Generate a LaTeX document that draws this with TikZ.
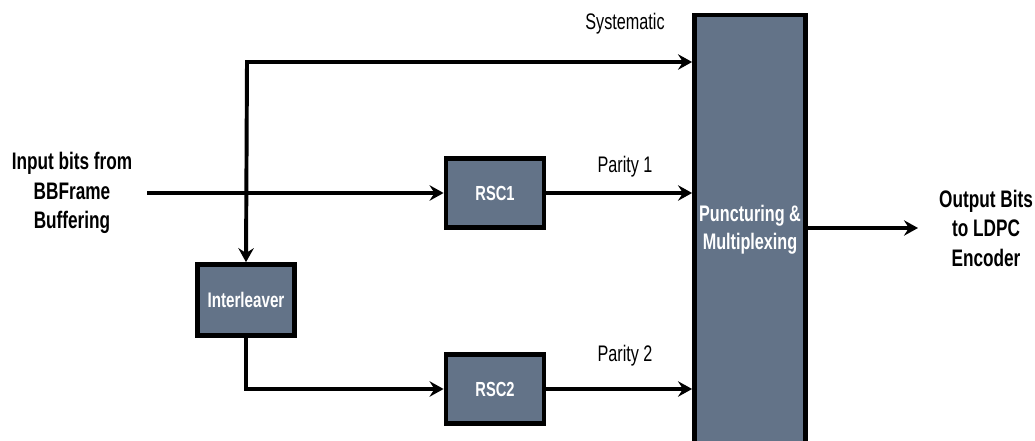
\documentclass[tikz,border=0pt]{standalone}
\usepackage{fontspec}
\setmainfont{Liberation Sans}[FakeStretch=0.72]
\definecolor{blockgray}{RGB}{99,115,136}
\usetikzlibrary{arrows.meta,positioning,calc}

\tikzset{
  block/.style={draw=black, line width=3.4pt, fill=blockgray, text=white,
    font=\bfseries\fontsize{14.5}{16}\selectfont, align=center},
  flow/.style={-{Stealth[length=10pt,width=11pt,inset=3.5pt]}, line width=2.8pt},
  sidetext/.style={font=\bfseries\fontsize{17}{21}\selectfont, align=center},
  chanlabel/.style={font=\fontsize{16}{18}\selectfont}
}

\begin{document}
\begin{tikzpicture}[x=0.025cm, y=-0.025cm]

  \useasboundingbox (0,0) rectangle (1035,441);
  \clip (0,0) rectangle (1035,441);

  %% ===== blocks =====
  \node[block, minimum width=2.45cm, minimum height=1.72cm] (rsc1) at (495,193) {RSC1};
  \node[block, minimum width=2.45cm, minimum height=1.72cm] (rsc2) at (495,389) {RSC2};
  \node[block, minimum width=2.42cm, minimum height=1.77cm,
    font=\bfseries\fontsize{15}{16}\selectfont] (intl) at (246,300) {Interleaver};
  \node[block, minimum width=2.72cm, minimum height=10.75cm,
    font=\bfseries\fontsize{16}{20}\selectfont] (punc) at (750,230)
    {Puncturing \&\\Multiplexing};

  %% ===== side texts =====
  \node[sidetext] (in) at (72,193) {Input bits from\\BBFrame\\Buffering};
  \node[sidetext] (out) at (986,228) {Output Bits\\to LDPC\\Encoder};

  %% ===== connectors =====
  \coordinate (instart) at (147,193);
  \coordinate (corner) at (247,62);
  \coordinate (outend) at (918,228);
  \draw[flow] (instart) -- (rsc1.west);
  \draw[flow] (corner) -- (corner -| punc.west);
  \draw[flow, line cap=rect] (corner) -- (intl.north);
  \draw[flow] (intl.south) |- (rsc2.west);
  \draw[flow] (rsc1.east) -- (rsc1.east -| punc.west);
  \draw[flow] (rsc2.east) -- (rsc2.east -| punc.west);
  \draw[flow] (punc.east |- outend) -- (outend);

  % Channel labels
  \node[chanlabel] (syslab) at (625,24) {Systematic};
  \node[chanlabel] (par1lab) at (625,167) {Parity 1};
  \node[chanlabel] (par2lab) at (625,356) {Parity 2};

\end{tikzpicture}
\end{document}
